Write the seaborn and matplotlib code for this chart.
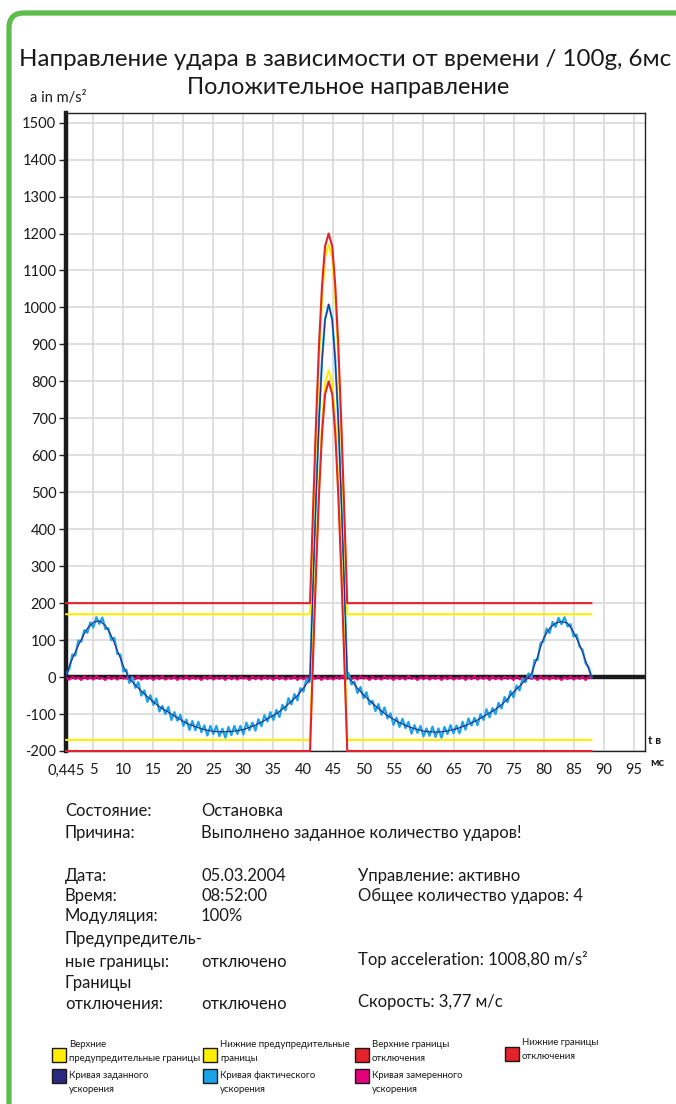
import numpy as np
import pandas as pd
import matplotlib
matplotlib.use("Agg")
import matplotlib.pyplot as plt
import seaborn as sns
from matplotlib.patches import FancyBboxPatch, Rectangle

# ---------------- data ----------------
title_line1 = "Направление удара в зависимости от времени / 100g, 6мс"
title_line2 = "Положительное направление"
y_unit_label = "a in m/s²"
x_unit_label_1 = "t в"
x_unit_label_2 = "мс"

x_ticks = [0.445, 5, 10, 15, 20, 25, 30, 35, 40, 45, 50, 55, 60, 65, 70, 75, 80, 85, 90, 95]
x_tick_labels = ["0,445", "5", "10", "15", "20", "25", "30", "35", "40", "45", "50",
                 "55", "60", "65", "70", "75", "80", "85", "90", "95"]
y_ticks = [-200, -100, 0, 100, 200, 300, 400, 500, 600, 700, 800, 900, 1000,
           1100, 1200, 1300, 1400, 1500]
y_tick_labels = ["-200", "-100", "0", "100", "200", "300", "400", "500", "600", "700",
                 "800", "900", "1000", "1100", "1200", "1300", "1400", "1500"]

# target (set) acceleration, ms / m/s^2
target_t_left = [0.445, 1, 2, 3, 4, 5, 6, 7, 8, 9, 10, 11, 12, 13, 14, 15, 16, 17, 18, 19, 20,
                 21, 22, 23, 24, 25, 26, 27, 28, 29, 30, 31, 32, 33, 34, 35, 36, 37, 38, 39, 40, 41]
target_a_left = [0, 30, 68, 102, 132, 148, 152, 140, 112, 72,
                 30, -5, -22, -38, -53, -67, -80, -90, -100, -110,
                 -120, -128, -134, -140, -144, -147, -148, -148, -147, -145,
                 -142, -136, -130, -122, -113, -104, -93, -80, -66, -50,
                 -30, -8]
pulse_t = [41.1, 41.6, 42.1, 42.6, 43.1, 43.6, 44.2, 44.8, 45.3, 45.8, 46.3, 46.8, 47.3]
target_a_pulse = [0, 250, 485, 695, 855, 965, 1008, 965, 855, 695, 485, 250, 0]
target_t_right = [48, 49, 50, 51, 52, 53, 54, 55, 56, 57, 58, 59, 60, 61, 62, 63, 64, 65, 66, 67,
                  68, 69, 70, 71, 72, 73, 74, 75, 76, 77, 78, 79, 80, 81, 82, 83, 84, 85, 86, 87, 88]
target_a_right = [-10, -30, -48, -63, -78, -92, -104, -114, -123, -131,
                  -137, -142, -146, -148, -149, -148, -146, -142, -137, -131,
                  -124, -116, -107, -97, -87, -75, -60, -40, -25, -8,
                  10, 55, 105, 132, 146, 150, 146, 122, 88, 45,
                  0]

# actual acceleration (sampled every 0.5 ms)
actual_a_left = [9, 22, 61, 58, 99, 96, 127, 120, 148, 134,
                 162, 144, 161, 130, 132, 100, 106, 63, 61, 15,
                 20, -16, 0, -29, -14, -50, -36, -67, -49, -75,
                 -58, -93, -78, -100, -81, -116, -95, -118, -102, -132,
                 -115, -143, -119, -144, -121, -149, -131, -158, -132, -154,
                 -132, -160, -140, -164, -135, -157, -132, -154, -132, -155,
                 -123, -144, -123, -145, -114, -133, -103, -120, -95, -116,
                 -89, -108, -75, -90, -57, -74, -46, -63, -30, -39,
                 -5, -14]
actual_a_pulse = [0, 255, 490, 700, 860, 968, 1008, 968, 858, 698, 488, 252, 0]
actual_a_right = [11, -20, -12, -43, -27, -57, -41, -74, -64, -92,
                  -73, -102, -82, -112, -98, -129, -110, -135, -113, -138,
                  -121, -153, -130, -151, -132, -160, -139, -159, -134, -162,
                  -139, -164, -135, -154, -130, -152, -131, -152, -121, -142,
                  -112, -131, -110, -130, -100, -116, -87, -109, -84, -100,
                  -70, -85, -54, -68, -38, -55, -23, -36, -4, -14,
                  10, -2, 46, 46, 92, 97, 131, 119, 149, 136,
                  160, 143, 162, 137, 143, 110, 115, 82, 74, 37,
                  27, 0]

# measured acceleration (sampled every 0.5 ms)
measured_a = [-2, -7, 1, -5, -1, -8, 2, -6, 0, -7, 3, -5, -2, -8, 1, -6, -1, -7, 2, -4,
              -3, -8, 0, -6, 2, -7, -1, -5, 1, -8, 0, -6, 3, -7, -2, -5, 1, -8, -1, -6,
              2, -7, 0, -5, -2, -8, 1, -6, 3, -7, -1, -5, 0, -8, 2, -6, -1, -7, 1, -4,
              -2, -8, 2, -6, 0, -7, 1, -5, -1, -8, 3, -6, 0, -7, -2, -5, 2, -8, 0, -6,
              1, -7, -1, -5, 2, -8, 0, -6, -2, -7, 1, -5, 3, -8, -1, -6, 0, -7, 2, -4,
              -1, -8, 1, -6, -2, -7, 2, -5, 0, -8, 1, -6, -1, -7, 3, -5, -2, -8, 0, -6,
              2, -7, -1, -5, 1, -8, 0, -6, 2, -7, -2, -5, 1, -8, 0, -6, 3, -7, -1, -5,
              0, -8, 2, -6, -1, -7, 1, -5, 0, -8, 2, -6, -2, -7, 1, -5,
              -1, -8, 2, -6, 0, -7, 1, -5, -2, -8, 0, -6, 2, -7, -1, -5, 1, -8, 0, -3]

# limit lines
limit_t = [0.445] + pulse_t + [88.0]
warn_upper = [170, 170, 420, 655, 865, 1025, 1135, 1170, 1135, 1025, 865, 655, 420, 170, 170]
warn_lower = [-170, -170, 80, 315, 525, 690, 795, 830, 795, 690, 525, 315, 80, -170, -170]
trip_upper = [200, 200, 450, 690, 900, 1060, 1165, 1200, 1165, 1060, 900, 690, 450, 200, 200]
trip_lower = [-200, -200, 50, 285, 495, 660, 765, 800, 765, 660, 495, 285, 50, -200, -200]

info_left = [("Состояние:", "Остановка", 811), ("Причина:", "Выполнено заданное количество ударов!", 833),
             ("Дата:", "05.03.2004", 876), ("Время:", "08:52:00", 896), ("Модуляция:", "100%", 916),
             ("Предупредитель-", "", 939), ("ные границы:", "отключено", 962),
             ("Границы", "", 983), ("отключения:", "отключено", 1004)]
info_right = [("Управление: активно", 876), ("Общее количество ударов: 4", 896),
              ("Top acceleration: 1008,80 m/s²", 960), ("Скорость: 3,77 м/с", 1002)]

legend_labels = ["Верхние\nпредупредительные границы", "Нижние предупредительные\nграницы",
                 "Верхние границы\nотключения", "Нижние границы\nотключения",
                 "Кривая заданного\nускорения", "Кривая фактического\nускорения",
                 "Кривая замеренного\nускорения"]

# ---------------- style ----------------
YELLOW = "#FFEE00"
RED = "#E42229"
NAVY = "#2B2A80"
CYAN = "#1AA3E6"
MAGENTA = "#E5007D"
GREEN = "#5CBD4C"
TXT = "#1a1a1a"
legend_colors = [YELLOW, YELLOW, RED, RED, NAVY, CYAN, MAGENTA]

sns.set_theme(style="white")
plt.rcParams["font.family"] = ["Lato", "Noto Sans", "DejaVu Sans"]

W, H = 676, 1104
fig = plt.figure(figsize=(W / 100, H / 100), dpi=100)
fig.patch.set_facecolor("white")


def fx(x):
    return x / W


def fy(y):
    return 1 - y / H


ax_left, ax_right, ax_top, ax_bottom = 66, 645, 113, 751
ax = fig.add_axes([fx(ax_left), fy(ax_bottom), (ax_right - ax_left) / W, (ax_bottom - ax_top) / H])
ax.set_facecolor("white")

target_t = target_t_left + pulse_t + target_t_right
target_a = target_a_left + target_a_pulse + target_a_right
t_half_left = [0.5 + 0.5 * i for i in range(len(actual_a_left))]
t_half_right = [47.5 + 0.5 * i for i in range(len(actual_a_right))]
actual_t = t_half_left + pulse_t + t_half_right
actual_a = actual_a_left + actual_a_pulse + actual_a_right
measured_t = [0.5 + 0.5 * i for i in range(len(measured_a))]

df_target = pd.DataFrame({"t": target_t, "a": target_a})
df_actual = pd.DataFrame({"t": actual_t, "a": actual_a})
df_meas = pd.DataFrame({"t": measured_t, "a": measured_a})
df_lim = pd.DataFrame({"t": limit_t, "wu": warn_upper, "wl": warn_lower,
                       "tu": trip_upper, "tl": trip_lower})

ax.axhline(0, color=TXT, lw=3.2, zorder=1.5)

sns.lineplot(data=df_meas, x="t", y="a", sort=False, estimator=None, color=MAGENTA,
             lw=1.5, ax=ax, zorder=3)
sns.lineplot(data=df_actual, x="t", y="a", sort=False, estimator=None, color=CYAN,
             lw=1.6, ax=ax, zorder=4)
sns.lineplot(data=df_target, x="t", y="a", sort=False, estimator=None, color=NAVY,
             lw=0.8, ax=ax, zorder=5)
for col, c in (("wu", YELLOW), ("wl", YELLOW), ("tu", RED), ("tl", RED)):
    sns.lineplot(data=df_lim, x="t", y=col, sort=False, estimator=None, color=c,
                 lw=1.5, ax=ax, zorder=6, clip_on=False)

ax.set_xlim(0.445, 96.9)
ax.set_ylim(-200, 1526)
ax.set_xticks(x_ticks)
ax.set_xticklabels(x_tick_labels, fontsize=10.5, color=TXT)
ax.set_yticks(y_ticks)
ax.set_yticklabels(y_tick_labels, fontsize=10.5, color=TXT)
ax.set_xlabel("")
ax.set_ylabel("")
ax.tick_params(axis="x", length=0, pad=9)
ax.tick_params(axis="y", length=5, width=1, color="#222222", pad=2, left=True)
ax.grid(True, color="#DCDCDC", lw=1.3, zorder=0)
ax.set_axisbelow(True)
for s in ("top", "right", "bottom"):
    ax.spines[s].set_color("#222222")
    ax.spines[s].set_linewidth(1.0)
ax.spines["left"].set_color(TXT)
ax.spines["left"].set_linewidth(3.2)

# titles
fig.text(fx(345), fy(60), title_line1, ha="center", va="center", fontsize=17.4, color=TXT)
fig.text(fx(348), fy(88), title_line2, ha="center", va="center", fontsize=16.8, color=TXT)
fig.text(fx(30), fy(98), y_unit_label, ha="left", va="center", fontsize=10.5, color=TXT)
fig.text(fx(648), fy(741), x_unit_label_1, ha="left", va="center", fontsize=8.5,
         color=TXT, fontweight="bold")
fig.text(fx(650), fy(763), x_unit_label_2, ha="left", va="center", fontsize=8.5,
         color=TXT, fontweight="bold")

# info block
for lab, val, y in info_left:
    fig.text(fx(65), fy(y), lab, ha="left", va="center", fontsize=12, color=TXT)
    if val:
        fig.text(fx(201), fy(y), val, ha="left", va="center", fontsize=12, color=TXT)
for val, y in info_right:
    fig.text(fx(358), fy(y), val, ha="left", va="center", fontsize=12, color=TXT)

# legend
leg_pos = [(52, 1048, 1040), (203, 1048, 1040), (355, 1048, 1040), (505, 1047, 1038),
           (52, 1069, 1071), (203, 1069, 1071), (355, 1069, 1071)]
for lab, col, (x, ysq, ytxt) in zip(legend_labels, legend_colors, leg_pos):
    fig.patches.append(Rectangle((fx(x), fy(ysq + 14)), 14 / W, 14 / H,
                                 transform=fig.transFigure, facecolor=col,
                                 edgecolor=TXT, lw=1.0))
    fig.text(fx(x + 17), fy(ytxt), lab, ha="left", va="top", fontsize=6.9,
             color=TXT, linespacing=1.7)

# green rounded frame
frame = FancyBboxPatch((0.09, -0.5), 7.5, (H - 13) / 100 + 0.5,
                       boxstyle="round,pad=0,rounding_size=0.15",
                       transform=fig.dpi_scale_trans, facecolor="none",
                       edgecolor=GREEN, lw=3.8)
fig.patches.append(frame)

fig.savefig("out.png", dpi=100, facecolor="white")
